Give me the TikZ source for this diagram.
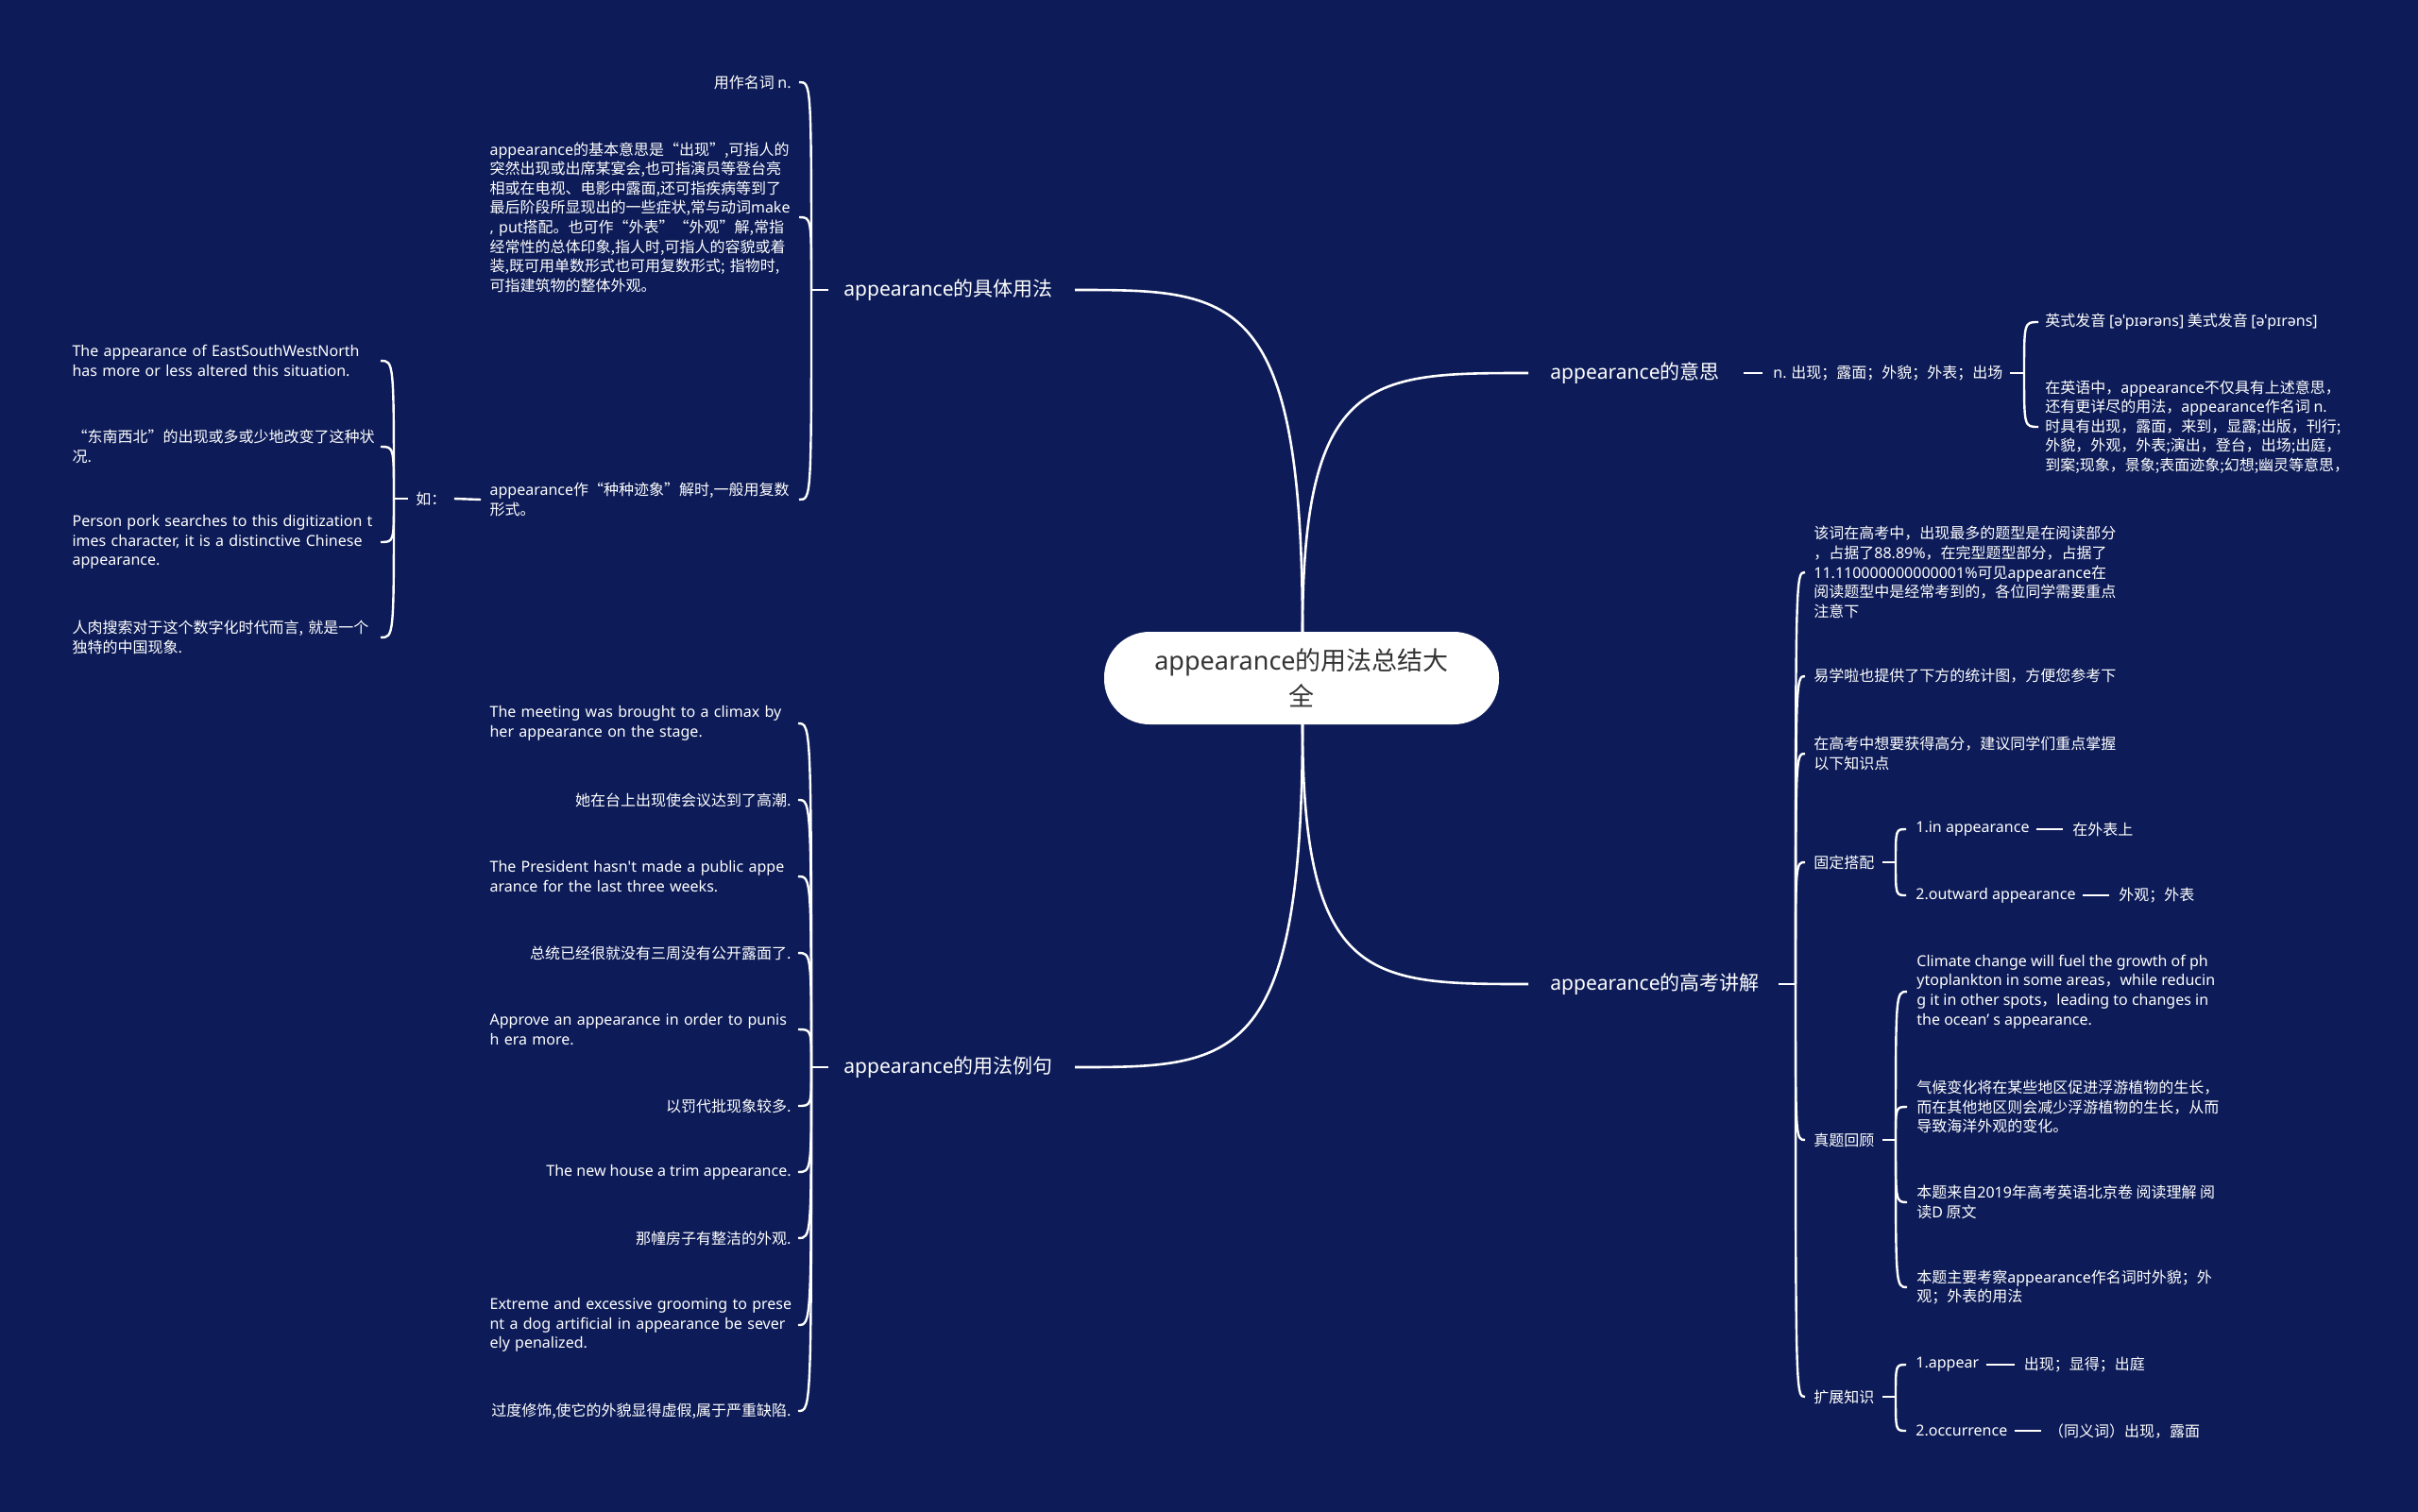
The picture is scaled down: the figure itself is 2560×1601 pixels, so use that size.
\documentclass[tikz,border=0pt]{standalone}
\usepackage{fontspec}
\setmainfont{Noto Sans CJK SC}
\newfontfamily\latinf{Noto Sans}
\newfontfamily\cjkf{Noto Sans CJK SC}
\newcommand\latn[1]{{\latinf #1}}
\usetikzlibrary{positioning}
\definecolor{bgnavy}{HTML}{0D1C58}
\definecolor{roottext}{HTML}{333333}
\tikzset{
  txt/.style={text=white, inner sep=0pt, align=left, font=\fontsize{8}{10.3}\selectfont},
  en/.style={text=white, inner sep=0pt, align=left, font=\latinf\fontsize{8}{10.3}\selectfont},
  wrapL/.style={text width=159.5pt},
  branchlabel/.style={text=white, inner sep=0pt, font=\fontsize{10.5}{13}\selectfont},
  rootbox/.style={fill=white, rounded corners=24pt, minimum width=209pt, minimum height=49pt,
    text=roottext, align=center, inner sep=0pt, font=\fontsize{13.5}{19}\selectfont},
  conn/.style={draw=white, line width=1.2pt},
  mainconn/.style={draw=white, line width=1.3pt},
}
\newcommand\mybrk[3]{\draw[conn] (#1) .. controls (#1 |- #2) .. ([xshift=#3]#2);}
\begin{document}
\begin{tikzpicture}[x=0.5pt,y=-0.5pt]
\useasboundingbox (0,0) rectangle (2560,1601);
\fill[bgnavy] (0,0) rectangle (2560,1601);

% ---------- main branch labels ----------
\node[branchlabel, anchor=east] (usage) at (1115,307) {\latn{appearance}的具体用法};
\node[branchlabel, anchor=east] (exlabel) at (1115,1130) {\latn{appearance}的用法例句};
\node[branchlabel, anchor=west] (yisi) at (1641,395) {\latn{appearance}的意思};
\node[branchlabel, anchor=west] (gk) at (1641,1042) {\latn{appearance}的高考讲解};

% ---------- root curves ----------
\coordinate (rt) at (1379,669);
\coordinate (rb) at (1379,767);
\draw[mainconn] (rt) .. controls (1379,307) and (1306,307) .. ([xshift=11.5pt]usage.east);
\draw[mainconn] (rt) .. controls (1379,395) and (1452,395) .. ([xshift=-11.5pt]yisi.west);
\draw[mainconn] (rb) .. controls (1379,1130) and (1306,1130) .. ([xshift=11.5pt]exlabel.east);
\draw[mainconn] (rb) .. controls (1379,1042) and (1452,1042) .. ([xshift=-11.5pt]gk.west);

\node[rootbox] (root) at (1378,718) {\latn{appearance}的用法总结大\\全};

% ---------- 具体用法 ----------
\node[txt, anchor=east] (n1a) at (838,87) {用作名词 \latn{n.}};
\node[txt, wrapL, anchor=east] (n1b) at (838,230) {\latn{appearance}的基本意思是“出现”,可指人的\\
突然出现或出席某宴会,也可指演员等登台亮\\
相或在电视、电影中露面,还可指疾病等到了\\
最后阶段所显现出的一些症状,常与动词\latn{make}\\
\latn{, put}搭配。也可作“外表”“外观”解,常指\\
经常性的总体印象,指人时,可指人的容貌或着\\
装,既可用单数形式也可用复数形式; 指物时,\\
可指建筑物的整体外观。};
\node[txt, wrapL, anchor=east] (n1c) at (838,529) {\latn{appearance}作“种种迹象”解时,一般用复数\\形式。};
\coordinate (J1) at (859,307);
\draw[conn] (J1) -- ([xshift=-8pt]usage.west);
\mybrk{J1}{n1a.east}{4pt}
\mybrk{J1}{n1b.east}{4pt}
\mybrk{J1}{n1c.east}{4pt}

\node[txt, anchor=west] (ru) at (440,528) {如：};
\draw[conn] ([xshift=4pt]ru.east) -- ([xshift=-4.5pt]n1c.west);
\node[en, wrapL, anchor=east] (r1) at (396,382) {\mbox{The appearance of EastSouthWestNorth}\\\mbox{has more or less altered this situation.}};
\node[txt, wrapL, anchor=east] (r2) at (396,473) {“东南西北”的出现或多或少地改变了这种状\\况.};
\node[en, wrapL, anchor=east] (r3) at (396,574) {\mbox{Person pork searches to this digitization t}\\\mbox{imes character, it is a distinctive Chinese}\\appearance.};
\node[txt, wrapL, anchor=east] (r4) at (396,675) {人肉搜索对于这个数字化时代而言, 就是一个\\独特的中国现象.};
\coordinate (J2) at (417,528);
\draw[conn] (J2) -- ([xshift=-4pt]ru.west);
\mybrk{J2}{r1.east}{3.5pt}
\mybrk{J2}{r2.east}{3.5pt}
\mybrk{J2}{r3.east}{3.5pt}
\mybrk{J2}{r4.east}{3.5pt}

% ---------- 用法例句 ----------
\node[en, wrapL, anchor=east] (ex1) at (838,766) {\mbox{The meeting was brought to a climax by}\\\mbox{her appearance on the stage.}};
\node[txt, anchor=east] (ex2) at (838,847) {她在台上出现使会议达到了高潮.};
\node[en, wrapL, anchor=east] (ex3) at (838,928) {\mbox{The President hasn't made a public appe}\\\mbox{arance for the last three weeks.}};
\node[txt, anchor=east] (ex4) at (838,1009) {总统已经很就没有三周没有公开露面了.};
\node[en, wrapL, anchor=east] (ex5) at (838,1090) {\mbox{Approve an appearance in order to punis}\\\mbox{h era more.}};
\node[txt, anchor=east] (ex6) at (838,1171) {以罚代批现象较多.};
\node[en, anchor=east] (ex7) at (838,1241) {The new house a trim appearance.};
\node[txt, anchor=east] (ex8) at (838,1311) {那幢房子有整洁的外观.};
\node[en, wrapL, anchor=east] (ex9) at (838,1403) {\mbox{Extreme and excessive grooming to prese}\\\mbox{nt a dog artificial in appearance be sever}\\\mbox{ely penalized.}};
\node[txt, anchor=east] (ex10) at (838,1494) {过度修饰,使它的外貌显得虚假,属于严重缺陷.};
\coordinate (J3) at (859,1130);
\draw[conn] (J3) -- ([xshift=-8pt]exlabel.west);
\foreach \n in {ex1,ex2,ex3,ex4,ex5,ex6,ex7,ex8,ex9,ex10}{\mybrk{J3}{\n.east}{3.5pt}}

% ---------- 意思 ----------
\node[txt, anchor=west] (ndef) at (1877,395) {\latn{n.} 出现；露面；外貌；外表；出场};
\draw[conn] ([xshift=12.5pt]yisi.east) -- ([xshift=-5.5pt]ndef.west);
\node[txt, anchor=west] (p1) at (2165,341) {英式发音 \latn{[əˈpɪərəns]} 美式发音 \latn{[əˈpɪrəns]}};
\node[txt, anchor=west] (p2) at (2165,452) {在英语中，\latn{appearance}不仅具有上述意思，\\
还有更详尽的用法，\latn{appearance}作名词 \latn{n.}\\
时具有出现，露面，来到，显露;出版，刊行;\\
外貌，外观，外表;演出，登台，出场;出庭，\\
到案;现象，景象;表面迹象;幻想;幽灵等意思，};
\coordinate (J4) at (2143,395);
\draw[conn] ([xshift=3.5pt]ndef.east) -- (J4);
\mybrk{J4}{p1.west}{-3.5pt}
\mybrk{J4}{p2.west}{-3.5pt}

% ---------- 高考讲解 ----------
\node[txt, anchor=west] (g1) at (1920,606) {该词在高考中，出现最多的题型是在阅读部分\\
，占据了\latn{88.89\%}，在完型题型部分，占据了\\
\latn{11.110000000000001\%}可见\latn{appearance}在\\
阅读题型中是经常考到的，各位同学需要重点\\
注意下};
\node[txt, anchor=west] (g2) at (1920,716) {易学啦也提供了下方的统计图，方便您参考下};
\node[txt, anchor=west] (g3) at (1920,798) {在高考中想要获得高分，建议同学们重点掌握\\以下知识点};
\node[txt, anchor=west] (gd) at (1920,913) {固定搭配};
\node[txt, anchor=west] (zt) at (1920,1207) {真题回顾};
\node[txt, anchor=west] (kz) at (1920,1479) {扩展知识};
\coordinate (J5) at (1901,1042);
\draw[conn] ([xshift=10pt]gk.east) -- (J5);
\foreach \n in {g1,g2,g3,gd,zt,kz}{\mybrk{J5}{\n.west}{-4.5pt}}

% 固定搭配
\node[en, anchor=west] (c1) at (2028,878) {1.in appearance};
\node[txt, right=22.5pt of c1] (c1b) {在外表上};
\draw[conn] ([xshift=3.5pt]c1.east) -- ([xshift=-5pt]c1b.west);
\node[en, anchor=west] (c2) at (2028,948) {2.outward appearance};
\node[txt, right=22.5pt of c2] (c2b) {外观；外表};
\draw[conn] ([xshift=3.5pt]c2.east) -- ([xshift=-5pt]c2b.west);
\coordinate (J6) at (2007,913);
\draw[conn] ([xshift=4pt]gd.east) -- (J6);
\mybrk{J6}{c1.west}{-5pt}
\mybrk{J6}{c2.west}{-5pt}

% 真题回顾
\node[en, anchor=west] (z1) at (2029,1050) {Climate change will fuel the growth of ph\\ytoplankton in some areas{\cjkf ，}while reducin\\g it in other spots{\cjkf ，}leading to changes in\\the ocean’ s appearance.};
\node[txt, anchor=west] (z2) at (2029,1172) {气候变化将在某些地区促进浮游植物的生长，\\而在其他地区则会减少浮游植物的生长，从而\\导致海洋外观的变化。};
\node[txt, anchor=west] (z3) at (2029,1273) {本题来自\latn{2019}年高考英语北京卷 阅读理解 阅\\读\latn{D} 原文};
\node[txt, anchor=west] (z4) at (2029,1363) {本题主要考察\latn{appearance}作名词时外貌；外\\观；外表的用法};
\coordinate (J7) at (2007,1207);
\draw[conn] ([xshift=4pt]zt.east) -- (J7);
\foreach \n in {z1,z2,z3,z4}{\mybrk{J7}{\n.west}{-5pt}}

% 扩展知识
\node[en, anchor=west] (e1) at (2028,1445) {1.appear};
\node[txt, right=23.5pt of e1] (e1b) {出现；显得；出庭};
\draw[conn] ([xshift=3.5pt]e1.east) -- ([xshift=-5pt]e1b.west);
\node[en, anchor=west] (e2) at (2028,1515) {2.occurrence};
\node[txt, right=21.5pt of e2] (e2b) {（同义词）出现，露面};
\draw[conn] ([xshift=3.5pt]e2.east) -- ([xshift=-4pt]e2b.west);
\coordinate (J8) at (2007,1479);
\draw[conn] ([xshift=4pt]kz.east) -- (J8);
\mybrk{J8}{e1.west}{-5pt}
\mybrk{J8}{e2.west}{-5pt}
\end{tikzpicture}
\end{document}
